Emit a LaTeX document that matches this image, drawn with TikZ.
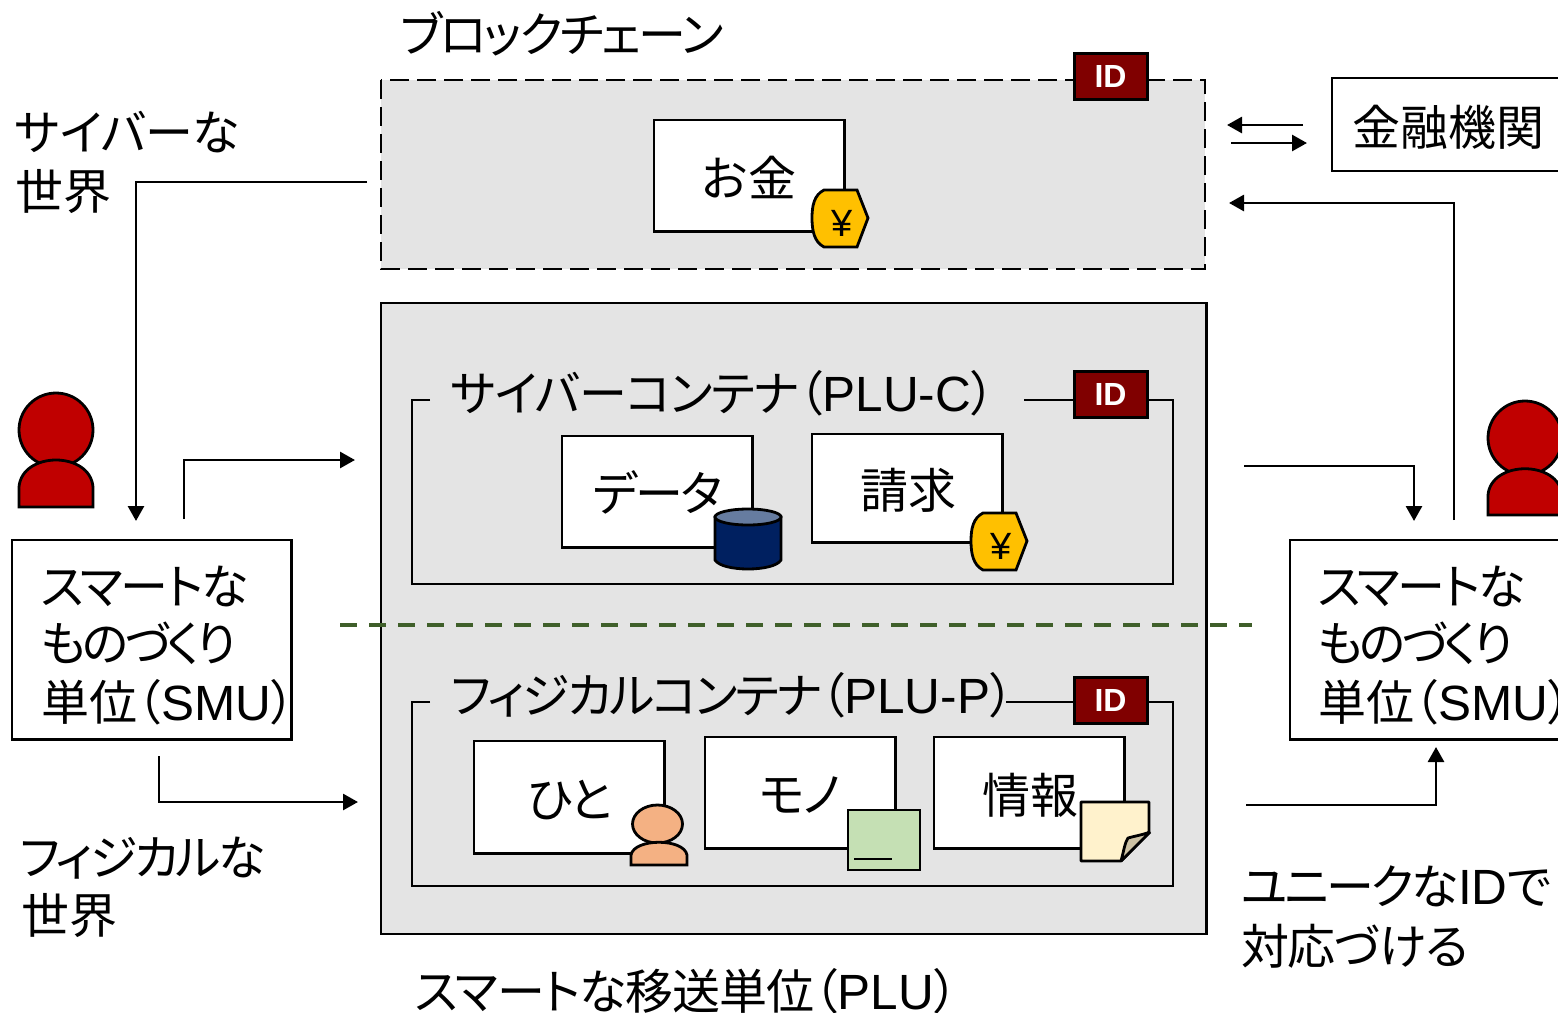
\documentclass[tikz,border=0pt]{standalone}
\usepackage{fontspec}
\setmainfont[RawFeature=+palt]{Noto Sans CJK JP}
\newfontfamily\lat{Liberation Sans}
\usetikzlibrary{arrows.meta}
\definecolor{panel}{HTML}{E4E4E4}
\definecolor{idred}{HTML}{800000}
\definecolor{pers}{HTML}{C00000}
\definecolor{coin}{HTML}{FFC000}
\definecolor{navy}{HTML}{002060}
\definecolor{navytop}{HTML}{667CA0}
\definecolor{skin}{HTML}{F4B183}
\definecolor{leaf}{HTML}{C5E0B4}
\definecolor{note}{HTML}{FFF2CC}
\definecolor{fold}{HTML}{CCC1A3}
\definecolor{divider}{HTML}{3F5F2A}
\newcommand{\ls}[1]{\addfontfeature{LetterSpace=#1}}
\newcommand{\ltn}[1]{{\fontsize{49.5}{50}\selectfont\lat #1}}
\tikzset{x=1pt,y=-1pt,
  ln/.style={draw=black,line width=2.8pt},
  conn/.style={draw=black,line width=2.8pt,-{Triangle[length=15pt,width=16pt]}},
  txt/.style={inner sep=0pt,outer sep=0pt,anchor=base west,font=\fontsize{48}{48}\selectfont},
  ctr/.style={inner sep=0pt,outer sep=0pt,anchor=center,font=\fontsize{48}{48}\selectfont},
  whitebox/.style={ln,fill=white,rectangle,inner sep=0pt,outer sep=0pt},
  idbox/.style={draw=black,line width=3pt,fill=idred,text=white,rectangle,inner sep=0pt,outer sep=0pt,minimum width=73pt,minimum height=46pt,font=\fontsize{32}{32}\selectfont\lat\bfseries},
  yen/.style={inner sep=0pt,font=\fontsize{38}{38}\selectfont\lat}
}
\newcommand{\boxat}[5]{\node[whitebox,anchor=north west,minimum width={#4pt-0.6pt},minimum height={#5pt-0.6pt}] (#1) at (#2,#3) {};}
\newcommand{\yencoin}[3]{%
  \draw[line width=2.8pt,fill=coin] (#2+12,#3) -- (#2+45,#3) -- (#2+56,#3+28) -- (#2+45,#3+57) -- (#2+12,#3+57)
     .. controls (#2+2,#3+52) and (#2,#3+40) .. (#2,#3+28) .. controls (#2,#3+16) and (#2+2,#3+5) .. (#2+12,#3) -- cycle;
  \node[yen] (#1) at (#2+30,#3+33) {¥};}
\begin{document}
\begin{tikzpicture}
\useasboundingbox (0,0) rectangle (1558,1012);
\clip (0,0) rectangle (1558,1012);
% blockchain panel
\draw[line width=2.8pt,fill=panel,dash pattern=on 19pt off 8pt] (381,80) rectangle (1205,269);
\coordinate (pA) at (367,182);
\coordinate (pG1) at (1303,125); \coordinate (pG2) at (1227,125);
\coordinate (pH1) at (1231,143); \coordinate (pH2) at (1307,143);
\coordinate (pE) at (1229,203);
% PLU panel
\draw[ln,fill=panel] (381,303) rectangle (1206.5,934);
% containers
\draw[ln] (430,400) -- (412,400) -- (412,584) -- (1173,584) -- (1173,400) -- (1148,400);
\draw[ln] (1024,400) -- (1073,400);
\draw[ln] (430,702) -- (412,702) -- (412,886) -- (1173,886) -- (1173,702) -- (1148,702);
\draw[ln] (1006,702) -- (1073,702);
% ID tags
\node[idbox] (id1) at (1110.5,76) {ID};
\node[idbox] (id2) at (1110.5,394) {ID};
\node[idbox] (id3) at (1110.5,700) {ID};
% inner boxes
\boxat{money}{654}{120}{191}{112}
\node[ctr] (moneyt) at (749,177) {お金};
\yencoin{y1}{812}{190}
\boxat{data}{562}{436}{191}{112}
\node[ctr] (datat) at (658,492) {\ls{-5}データ};
\boxat{bill}{812}{434}{191}{109}
\node[ctr] (billt) at (908,490) {請求};
\yencoin{y2}{971}{513}
% cylinder
\draw[line width=2.8pt,fill=navy] (715,517) -- (715,560) .. controls (722,572) and (774,572) .. (781,560) -- (781,517) -- cycle;
\draw[line width=2.8pt,fill=navytop] (748,517) ellipse [x radius=33,y radius=8];
% lower boxes
\boxat{hito}{474}{741}{191}{113}
\node[ctr] (hitot) at (570,800) {\ls{-3}ひと};
\draw[line width=2.8pt,fill=skin] (657.5,824) ellipse [x radius=25,y radius=19];
\draw[line width=2.8pt,fill=skin] (631,865) -- (631,855) .. controls (634,838) and (684,838) .. (687,855) -- (687,865) -- cycle;
\boxat{mono}{705}{737}{191}{112}
\node[ctr] (monot) at (800,795) {\ls{-5}モノ};
\draw[line width=2.8pt,fill=leaf] (848,810) rectangle (920,870);
\draw[line width=2.6pt] (854,859) -- (892,859);
\boxat{info}{934}{737}{191}{112}
\node[ctr] (infot) at (1030,795) {情報};
\draw[line width=2.8pt,line join=bevel,fill=note] (1081,802) -- (1149,802) -- (1149,832) -- (1121,861) -- (1081,861) -- cycle;
\draw[line width=2.8pt,line join=bevel,fill=fold] (1121,861) .. controls (1124,850) and (1125,842) .. (1128,838) .. controls (1135,836) and (1142,835) .. (1150,832) -- cycle;
% right bank
\node[whitebox,anchor=north west,minimum width=240pt,minimum height=93pt] (bank) at (1332,78) {};
\node[txt] (bankt) at (1352,145) {金融機関};
% SMU boxes
\boxat{smuL}{12}{540}{280}{200}
\boxat{smuR}{1290}{540}{290}{200}
\foreach \nm/\x in {L/41,R/1318}{
  \node[txt] (s1\nm) at (\x,604) {\ls{-4.6}スマートな};
  \node[txt] (s2\nm) at (\x,661) {\ls{-8}ものづくり};
  \node[txt] (s3\nm) at (\x,720) {単位（\ltn{SMU}）};
}
% people
\draw[line width=2.8pt,fill=pers] (56,430) circle [radius=37];
\draw[line width=2.8pt,fill=pers] (19,507) -- (19,487) .. controls (22,451) and (90,451) .. (93,487) -- (93,507) -- cycle;
\draw[line width=2.8pt,fill=pers] (1525,438) circle [radius=37];
\draw[line width=2.8pt,fill=pers] (1488,515) -- (1488,495) .. controls (1491,460) and (1559,460) .. (1562,495) -- (1562,515) -- cycle;
% labels
\node[txt] (lbc) at (400,52) {\ls{-4.8}ブロックチェーン};
\node[txt] (lcy1) at (15,150) {\ls{-1}サイバーな};
\node[txt] (lcy2) at (15,209) {世界};
\node[txt] (lph1) at (20,875) {\ls{-6}フィジカルな};
\node[txt] (lph2) at (21,933) {世界};
\node[txt] (lid1) at (1241,904) {\ls{-6}ユニークな\ltn{ID}で};
\node[txt] (lid2) at (1241,964) {\ls{-2.4}対応づける};
\node[txt] (lplu) at (415,1009) {\ls{-2.2}スマートな移送単位（\ltn{PLU}）};
\node[txt] (lpc) at (451,411) {\ls{-2.4}サイバーコンテナ（\ltn{PLU-C}）};
\node[txt] (lpp) at (451,713) {\ls{-4.6}フィジカルコンテナ（\ltn{PLU-P}）};
% divider
\coordinate (d1) at (340,625); \coordinate (d2) at (1252,625);
\draw[draw=divider,line width=4pt,dash pattern=on 17pt off 12pt] (d1) -- (d2);
% connectors
\coordinate (aE) at (136,521);
\draw[conn] (pA) -- (136,182) -- (aE);
\coordinate (b1) at (184,519); \coordinate (b2) at (355,460);
\draw[conn] (b1) |- (b2);
\coordinate (c1) at (159,756); \coordinate (c2) at (358,802);
\draw[conn] (c1) |- (c2);
\coordinate (d3) at (1244,466); \coordinate (d4) at (1414,521);
\draw[conn] (d3) -| (d4);
\coordinate (e1) at (1454,520);
\draw[conn] (e1) |- (pE);
\coordinate (f1) at (1246,805); \coordinate (f2) at (1436,747);
\draw[conn] (f1) -| (f2);
\draw[conn] (pG1) -- (pG2);
\draw[conn] (pH1) -- (pH2);
\end{tikzpicture}
\end{document}
